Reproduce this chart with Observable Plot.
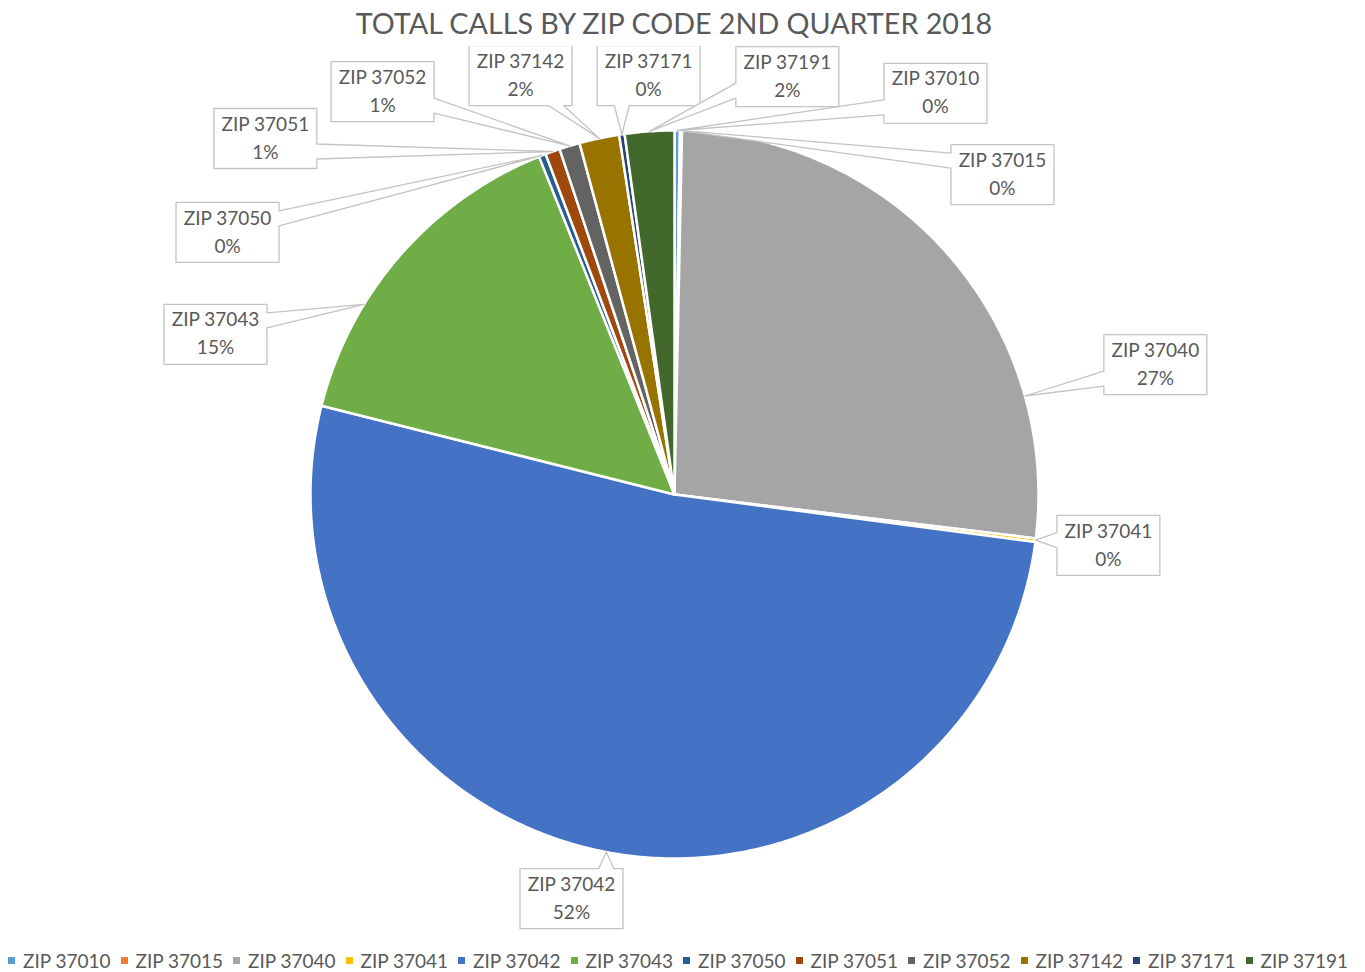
<!DOCTYPE html>
<html>
<head>
<meta charset="utf-8">
<script src="https://cdn.jsdelivr.net/npm/d3@7"></script>
<script src="https://cdn.jsdelivr.net/npm/@observablehq/plot@0.6"></script>
<style>
  body { margin: 0; background: #ffffff; font-family: Lato, "Open Sans", sans-serif; }
  #title { height: 46px; line-height: 46px; text-align: center; font-size: 28.7px; color: #595959; padding-right: 17px; white-space: nowrap; }
  #chart svg { display: block; }
  #legend { height: 24px; display: flex; align-items: center; padding-left: 8px; font-size: 19px; color: #595959; white-space: nowrap; }
  .item { width: 112.5px; display: inline-flex; align-items: center; flex: none; }
  .sw { width: 7px; height: 7px; margin-right: 8px; flex: none; }
</style>
</head>
<body>
<div id="title">TOTAL CALLS BY ZIP CODE 2ND QUARTER 2018</div>
<div id="chart"></div>
<div id="legend"></div>
<script>
// ---- data ----
const zips = ["ZIP 37010", "ZIP 37015", "ZIP 37040", "ZIP 37041", "ZIP 37042", "ZIP 37043",
              "ZIP 37050", "ZIP 37051", "ZIP 37052", "ZIP 37142", "ZIP 37171", "ZIP 37191"];
const shares = [0.24, 0.09, 26.6, 0.15, 51.84, 15.01, 0.31, 0.65, 0.91, 1.77, 0.24, 2.19];
const colors = ["#5B9BD5", "#ED7D31", "#A5A5A5", "#FFC000", "#4472C4", "#70AD47",
                "#255E91", "#9E480E", "#636363", "#997300", "#264478", "#43682B"];
// ---- callout layout (box centers, in pie radii; optional tip bearing in degrees) ----
const labelX = [0.717, 0.901, 1.321, 1.192, -0.283, -1.261, -1.228, -1.124, -0.802, -0.423, -0.071, 0.310];
const labelY = [1.102, 0.879, 0.357, -0.140, -1.110, 0.440, 0.720, 0.978, 1.107, 1.151, 1.151, 1.148];
const tipBearing = [null, null, 74.3, null, null, 301.5, null, null, null, null, null, null];

// ---- geometry ----
const R = 364;              // px per unit radius
const px = v => v / R;
const total = d3.sum(shares);
let acc = 0;
const slices = zips.map((zip, i) => {
  const a0 = acc / total * 360;
  acc += shares[i];
  const a1 = acc / total * 360;
  return {zip, a0, a1, value: shares[i]};
});
const rad = d => d * Math.PI / 180;
const slicePts = [];
for (const s of slices) {
  slicePts.push({zip: s.zip, x: 0, y: 0});
  const n = Math.max(2, Math.ceil((s.a1 - s.a0) / 0.5));
  for (let k = 0; k <= n; k++) {
    const a = rad(s.a0 + (s.a1 - s.a0) * k / n);
    slicePts.push({zip: s.zip, x: Math.sin(a), y: Math.cos(a)});
  }
}

const hw = px(51.5), hh = px(30), bw = px(7.5), m = px(16);
const clamp = (v, lo, hi) => Math.max(lo, Math.min(hi, v));
const calloutPts = [];
const labels = slices.map((s, i) => {
  const cx = labelX[i], cy = labelY[i];
  const b = tipBearing[i] != null ? tipBearing[i] : (s.a0 + s.a1) / 2;
  const tx = Math.sin(rad(b)), ty = Math.cos(rad(b));
  const x0 = cx - hw, x1 = cx + hw, y0 = cy - hh, y1 = cy + hh;
  const d = {left: x0 - tx, right: tx - x1, bottom: y0 - ty, top: ty - y1};
  const side = Object.keys(d).reduce((a, k) => d[k] > d[a] ? k : a, "left");
  const pts = [];
  const tip = [tx, ty];
  pts.push([x0, y1]);
  if (side === "top") { const p = clamp(tx, x0 + m, x1 - m); pts.push([p - bw, y1], tip, [p + bw, y1]); }
  pts.push([x1, y1]);
  if (side === "right") { const p = clamp(ty, y0 + m, y1 - m); pts.push([x1, p + bw], tip, [x1, p - bw]); }
  pts.push([x1, y0]);
  if (side === "bottom") { const p = clamp(tx, x0 + m, x1 - m); pts.push([p + bw, y0], tip, [p - bw, y0]); }
  pts.push([x0, y0]);
  if (side === "left") { const p = clamp(ty, y0 + m, y1 - m); pts.push([x0, p - bw], tip, [x0, p + bw]); }
  for (const [x, y] of pts) calloutPts.push({zip: s.zip, x, y});
  return {zip: s.zip, x: cx, y: cy, pct: Math.round(s.value / total * 100) + "%"};
});

const W = 1365, H = 902, CX = 674, CY = 448;
const chart = Plot.plot({
  width: W,
  height: H,
  margin: 0,
  x: {domain: [-CX / R, (W - CX) / R], axis: null},
  y: {domain: [-(H - CY) / R, CY / R], axis: null},
  color: {domain: zips, range: colors},
  style: {fontFamily: "Lato, 'Open Sans', sans-serif", background: "#ffffff"},
  marks: [
    Plot.line(slicePts, {x: "x", y: "y", z: "zip", fill: "zip", stroke: "#ffffff", strokeWidth: 2.5,
      strokeLinejoin: "round", curve: "linear-closed"}),
    Plot.line(calloutPts, {x: "x", y: "y", z: "zip", fill: "#ffffff", stroke: "#c3c3c3", strokeWidth: 1.3,
      curve: "linear-closed"}),
    Plot.text(labels, {x: "x", y: "y", text: "zip", dy: -14, fontSize: 19, fill: "#595959"}),
    Plot.text(labels, {x: "x", y: "y", text: "pct", dy: 14, fontSize: 19, fill: "#595959"})
  ]
});
document.getElementById("chart").appendChild(chart);

// legend
const legend = d3.select("#legend");
zips.forEach((z, i) => {
  const it = legend.append("div").attr("class", "item");
  it.append("div").attr("class", "sw").style("background", colors[i]);
  it.append("span").text(z);
});
</script>
</body>
</html>
